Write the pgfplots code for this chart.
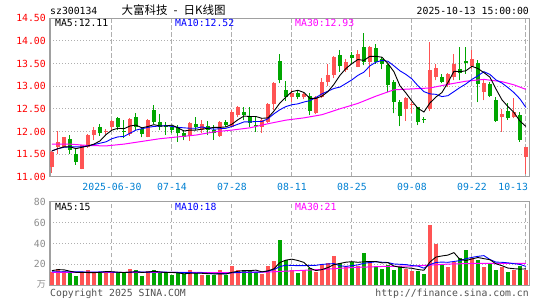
\documentclass[border=0pt]{standalone}
\usepackage{pgfplots}
\pgfplotsset{compat=1.18}
\usepackage{pgfplotstable}
\usepackage{fontspec}
\newfontfamily\mono{DejaVu Sans Mono}
\newfontfamily\cjk{Noto Sans CJK SC}
\definecolor{upred}{RGB}{255,84,84}
\definecolor{dngreen}{RGB}{0,166,0}
\definecolor{gridc}{RGB}{175,175,175}
\definecolor{framec}{RGB}{160,160,160}
\definecolor{datec}{RGB}{0,128,210}
\definecolor{magc}{RGB}{255,0,255}
\definecolor{volc}{RGB}{140,140,140}
\definecolor{copyc}{RGB}{80,80,80}

% up (red) candles: index open high low close volume
\pgfplotstableread{
i O H L C V
0 11.22 11.56 11.09 11.55 12.4
1 11.65 12.01 11.50 11.76 15.2
2 11.66 11.88 11.64 11.87 13.3
5 11.18 11.70 11.17 11.70 12.4
6 11.66 11.94 11.64 11.92 14.3
7 11.92 12.09 11.81 12.04 12.8
9 11.99 12.05 11.95 12.01 12.8
10 12.09 12.26 12.03 12.24 12.2
13 11.94 12.29 11.90 12.27 15.2
16 11.88 12.28 11.87 12.26 13.3
23 11.90 12.21 11.79 12.19 14.4
25 12.03 12.25 11.96 12.16 9.7
28 11.90 12.24 11.88 12.21 14.4
30 12.10 12.47 12.09 12.43 18.1
31 12.36 12.56 12.31 12.54 14.4
35 12.10 12.29 11.97 12.25 10.5
36 12.21 12.62 12.19 12.60 18.7
37 12.60 13.10 12.47 13.07 23.6
40 12.76 12.91 12.65 12.84 15.1
42 12.76 12.87 12.71 12.82 14.3
44 12.40 12.79 12.38 12.76 12.6
45 12.76 13.18 12.73 13.10 19.6
46 13.10 13.50 13.00 13.24 21.8
47 13.24 13.66 13.18 13.65 28.5
49 13.35 13.61 13.32 13.54 18.7
51 13.43 13.79 13.42 13.71 18.7
53 13.54 13.88 13.21 13.87 23.6
59 12.49 12.76 12.24 12.73 15.7
60 12.58 12.65 12.40 12.60 13.6
63 12.49 13.98 12.45 13.35 58.0
64 13.21 13.50 13.13 13.41 39.2
66 13.02 13.29 12.99 13.28 17.5
67 13.21 13.72 13.13 13.50 22.6
70 13.44 13.79 13.39 13.60 26.6
72 12.88 13.13 12.69 13.06 17.5
75 12.31 12.49 11.99 12.38 17.5
77 12.31 12.73 12.29 12.43 14.4
79 11.44 11.66 11.07 11.65 15.1
}\uptab

% down (green) candles
\pgfplotstableread{
i O H L C V
3 11.83 11.93 11.50 11.59 11.9
4 11.51 11.63 11.26 11.33 9.3
8 12.10 12.16 11.90 11.96 13.1
11 12.29 12.31 12.03 12.09 11.4
12 12.01 12.25 11.85 11.99 11.4
14 12.31 12.41 12.03 12.09 14.5
15 12.06 12.10 11.87 11.94 9.1
17 12.47 12.58 12.16 12.21 15.1
18 12.21 12.38 12.03 12.10 12.1
19 12.14 12.21 11.92 12.09 11.4
20 12.10 12.14 11.96 12.03 9.7
21 12.09 12.14 11.77 11.96 11.4
22 11.97 12.04 11.81 11.87 10.5
24 12.16 12.31 12.03 12.09 11.4
26 12.13 12.24 11.92 12.04 9.7
27 12.04 12.14 11.82 11.96 9.7
29 12.21 12.26 12.09 12.14 10.3
32 12.44 12.54 12.25 12.36 13.6
33 12.34 12.53 12.10 12.19 13.6
34 12.15 12.31 11.99 12.12 12.6
38 13.55 13.71 13.06 13.13 43.7
39 12.91 13.11 12.68 12.76 24.1
41 12.85 12.90 12.71 12.76 12.1
43 12.78 12.84 12.36 12.46 16.6
48 13.68 13.81 13.32 13.44 21.8
50 13.68 13.76 13.50 13.63 22.3
52 13.87 14.18 13.46 13.54 30.8
54 13.85 13.94 13.50 13.54 18.7
55 13.60 13.64 13.37 13.50 15.7
56 13.46 13.50 12.88 13.02 19.6
57 13.10 13.13 12.40 12.65 14.4
58 12.65 12.69 12.12 12.34 18.1
61 12.53 12.54 12.14 12.21 13.6
62 12.27 12.31 12.19 12.25 10.8
65 13.21 13.28 13.06 13.10 19.0
68 13.37 13.87 13.13 13.29 25.7
69 13.55 13.87 13.28 13.52 33.8
71 13.52 13.57 12.65 13.04 24.1
73 13.04 13.10 12.76 12.78 20.5
74 12.69 12.76 12.21 12.24 14.4
76 12.45 12.62 12.26 12.29 12.6
78 12.36 12.43 11.77 11.82 18.7
}\dntab

% moving averages: price MA5, MA10; volume MA5, MA10
\pgfplotstableread{
i m5 m10 v5 v10
0 11.57 11.57 14.0 13.0
1 11.62 11.62 15.0 13.0
2 11.66 11.65 14.8 13.0
3 11.66 11.66 13.5 12.9
4 11.62 11.66 12.4 12.8
5 11.65 11.66 12.4 12.8
6 11.68 11.68 12.2 12.7
7 11.72 11.71 12.1 12.7
8 11.79 11.74 12.4 12.8
9 11.93 11.77 13.1 12.8
10 12.03 11.84 13.0 12.7
11 12.07 11.88 12.5 12.4
12 12.06 11.89 12.2 12.2
13 12.12 11.96 12.6 12.5
14 12.14 12.03 12.9 13.0
15 12.08 12.06 12.3 12.7
16 12.11 12.09 12.7 12.6
17 12.15 12.11 13.4 12.8
18 12.12 12.12 12.8 12.7
19 12.12 12.13 12.2 12.6
20 12.14 12.11 12.3 12.3
21 12.08 12.09 11.9 12.3
22 12.01 12.08 11.0 12.2
23 12.03 12.07 11.5 12.2
24 12.03 12.07 11.5 11.8
25 12.05 12.10 11.5 11.9
26 12.07 12.07 11.1 11.5
27 12.09 12.05 11.0 11.0
28 12.09 12.06 11.0 11.2
29 12.10 12.07 10.8 11.1
30 12.16 12.11 12.4 12.0
31 12.26 12.16 13.4 12.3
32 12.34 12.21 14.2 12.6
33 12.33 12.21 14.0 12.5
34 12.33 12.22 14.5 12.6
35 12.29 12.22 12.9 12.7
36 12.30 12.28 13.8 13.6
37 12.45 12.39 15.8 15.0
38 12.63 12.48 21.8 17.9
39 12.76 12.55 24.1 19.3
40 12.88 12.59 25.0 19.0
41 12.91 12.61 23.7 18.8
42 12.86 12.65 21.9 18.8
43 12.73 12.68 16.4 19.1
44 12.73 12.75 14.1 19.1
45 12.78 12.83 15.0 20.0
46 12.88 12.89 17.0 20.4
47 13.04 12.95 19.8 20.8
48 13.24 12.98 20.9 18.7
49 13.39 13.06 22.1 18.1
50 13.50 13.14 22.6 18.8
51 13.59 13.24 22.0 19.5
52 13.57 13.31 22.5 21.1
53 13.66 13.45 22.8 21.8
54 13.66 13.53 22.8 22.5
55 13.64 13.57 21.5 22.1
56 13.50 13.55 21.7 21.8
57 13.32 13.45 18.4 20.4
58 13.01 13.34 17.3 20.1
59 12.85 13.26 16.7 19.8
60 12.67 13.16 16.3 18.9
61 12.51 13.01 15.1 18.4
62 12.43 12.88 14.4 16.4
63 12.63 12.83 22.3 19.8
64 12.76 12.82 27.0 21.9
65 12.86 12.77 28.1 22.2
66 13.08 12.79 28.9 22.0
67 13.33 12.88 31.3 22.8
68 13.32 12.97 24.8 23.6
69 13.34 13.05 23.7 25.4
70 13.44 13.15 25.2 26.7
71 13.39 13.23 26.6 27.7
72 13.30 13.32 25.5 28.4
73 13.20 13.26 24.5 24.7
74 12.94 13.14 20.6 22.2
75 12.70 13.07 18.8 22.0
76 12.55 12.97 16.5 21.5
77 12.42 12.86 15.9 20.7
78 12.23 12.72 15.5 20.0
79 12.11 12.53 15.7 18.1
}\matab

% MA30 for price and volume
\pgfplotstableread{
i m30
0 11.72
3 11.72
6 11.69
9 11.68
12 11.72
15 11.78
18 11.84
21 11.88
24 11.92
27 11.99
30 12.03
33 12.08
36 12.17
39 12.25
42 12.30
45 12.37
48 12.50
51 12.62
54 12.78
57 12.92
60 12.94
63 12.96
66 13.04
69 13.11
72 13.15
75 13.10
77 13.03
79 12.93
}\mathirty

\pgfplotstableread{
i v30
0 12.3
10 12.3
20 12.4
30 12.1
36 12.7
40 13.8
45 15.2
50 17.0
55 18.0
60 18.4
63 19.3
66 20.3
70 20.9
75 21.0
79 21.1
}\vthirty

\pgfplotsset{
  kbase/.style={
    scale only axis, width=479.5pt, anchor=south west,
    xmin=-0.33, xmax=79.6,
    axis line style={framec, line width=1.2pt},
    major tick length=0pt,
    xtick={10,20,30,40,50,60,70,79},
    xmajorgrids, ymajorgrids,
    x grid style={gridc, dash pattern=on 4.5pt off 2.5pt, line width=1pt},
    y grid style={gridc, dash pattern=on 1pt off 2pt, line width=1pt},
    tick label style={font=\mono\fontsize{9.8}{10}\selectfont},
    yticklabel style={anchor=east, inner sep=0pt, xshift=-4pt},
    xticklabel style={anchor=north, inner sep=0pt, yshift=-6pt, text=datec},
  },
  wick/.style={only marks, mark=*, mark size=0pt,
    mark options={draw=none, fill=none}, forget plot,
    error bars/.cd, y dir=plus, y explicit, error mark=none,
    error bar style={draw=#1, line width=1pt}},
  body/.style={only marks, mark=*, mark size=0pt,
    mark options={draw=none, fill=none}, forget plot,
    error bars/.cd, y dir=plus, y explicit, error mark=none,
    error bar style={draw=#1, line width=4.6pt}},
}

\begin{document}
\begin{tikzpicture}
\useasboundingbox (0,0) rectangle (545pt,300pt);

% ---------- price panel ----------
\begin{axis}[kbase, at={(50pt,123.3pt)}, height=158.4pt,
  ymin=11, ymax=14.5,
  ytick={11,11.5,12,12.5,13,13.5,14,14.5},
  yticklabels={11.00,11.50,12.00,12.50,13.00,13.50,14.00,14.50},
  yticklabel style={text=red},
  xticklabels={2025-06-30,07-14,07-28,08-11,08-25,09-08,09-22,\hspace{4pt}\makebox[0pt][r]{10-13}},
]
\addplot[wick=upred] table[x=i, y=L, y error expr=\thisrow{H}-\thisrow{L}] {\uptab};
\addplot[body=upred] table[x=i, y=O, y error expr=\thisrow{C}-\thisrow{O}] {\uptab};
\addplot[wick=dngreen] table[x=i, y=L, y error expr=\thisrow{H}-\thisrow{L}] {\dntab};
\addplot[body=dngreen] table[x=i, y=C, y error expr=\thisrow{O}-\thisrow{C}] {\dntab};
\addplot[magc, line width=1pt, mark=none] table[x=i, y=m30] {\mathirty};
\addplot[blue, line width=0.9pt, mark=none] table[x=i, y=m10] {\matab};
\addplot[black, line width=0.9pt, mark=none] table[x=i, y=m5] {\matab};
\end{axis}

% ---------- volume panel ----------
\begin{axis}[kbase, at={(50pt,14.7pt)}, height=83.6pt,
  ymin=0, ymax=80,
  ytick={20,40,60,80},
  yticklabels={20,40,60,80},
  yticklabel style={text=volc},
  xticklabels={},
]
\addplot[ycomb, mark=none, upred, line width=4.8pt] table[x=i, y=V] {\uptab};
\addplot[ycomb, mark=none, dngreen, line width=4.8pt] table[x=i, y=V] {\dntab};
\addplot[magc, line width=1pt, mark=none] table[x=i, y=v30] {\vthirty};
\addplot[blue, line width=0.9pt, mark=none] table[x=i, y=v10] {\matab};
\addplot[black, line width=0.9pt, mark=none] table[x=i, y=v5] {\matab};
\end{axis}

% ---------- texts ----------
\def\mf{\mono\fontsize{9.8}{10}\selectfont}
\node[anchor=base west, inner sep=0pt] at (50pt,285pt) {\mf sz300134};
\node[anchor=base west, inner sep=0pt] at (121.5pt,285pt) {\cjk\fontsize{11.5}{12}\selectfont 大富科技\hspace{6pt}-\hspace{6pt}日K线图};
\node[anchor=base east, inner sep=0pt] at (529pt,285pt) {\mf 2025-10-13 15:00:00};

\node[anchor=base west, inner sep=0pt] at (55pt,273.3pt) {\mf MA5:12.11};
\node[anchor=base west, inner sep=0pt, text=blue] at (175pt,273.3pt) {\mf MA10:12.52};
\node[anchor=base west, inner sep=0pt, text=magc] at (295pt,273.3pt) {\mf MA30:12.93};

\node[anchor=base west, inner sep=0pt] at (55pt,90pt) {\mf MA5:15};
\node[anchor=base west, inner sep=0pt, text=blue] at (175pt,90pt) {\mf MA10:18};
\node[anchor=base west, inner sep=0pt, text=magc] at (295pt,90pt) {\mf MA30:21};

\node[anchor=east, inner sep=0pt, text=volc] at (46pt,15.5pt) {\cjk\fontsize{9}{10}\selectfont 万};

\node[anchor=base west, inner sep=0pt, text=copyc] at (50pt,4pt) {\mf Copyright 2025 SINA.COM};
\node[anchor=base east, inner sep=0pt, text=copyc] at (529pt,4pt) {\mf http://finance.sina.com.cn};
\end{tikzpicture}
\end{document}
